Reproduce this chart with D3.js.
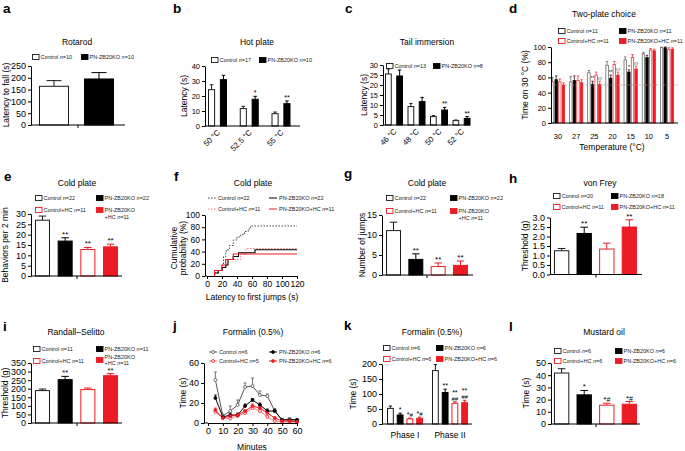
<!DOCTYPE html>
<html><head><meta charset="utf-8">
<script src="https://cdn.jsdelivr.net/npm/d3@7"></script>
<style>body{margin:0;background:#fff}svg{display:block}</style>
</head><body><svg id="c" width="685" height="451"></svg>
<script>
// ---------------- DATA ----------------
const groups2=["Control","PN-ZB20KO"];
const groups4=["Control","PN-ZB20KO","Control+HC","PN-ZB20KO+HC"];
// a Rotarod
const rotarodMean=[164,195], rotarodSem=[24,27];
const rotarodTicks=[0,50,100,150,200,250];
// b Hot plate
const hotTemps=["50 °C","52.5 °C","55 °C"];
const hotCtrl=[24.2,11.6,8.2], hotCtrlSem=[3.3,1.5,1.1];
const hotKO=[30.9,17.8,14.9], hotKOSem=[2.9,2.0,1.8];
const hotSig=["","*","**"];
const hotTicks=[0,10,20,30,40];
// c Tail immersion
const tailTemps=["46 °C","48 °C","50 °C","52 °C"];
const tailCtrl=[25.5,9.2,4.2,2.2], tailCtrlSem=[2.5,1.6,0.5,0.3];
const tailKO=[24.5,11.7,7.5,3.3], tailKOSem=[3.0,2.1,1.3,0.9];
const tailSig=["","","**","**"];
const tailTicks=[0,5,10,15,20,25,30];
// d Two-plate choice
const twoTemps=["30","27","25","20","15","10","5"];
const twoCtrl=[54,54,66,76,83,91,99], twoCtrlSem=[6,7,3,5,4,2,1];
const twoKO=[57,56,51,59,67,86,99], twoKOSem=[5,6,4,4,3,3,1];
const twoCtrlHC=[54,56,63,77,86,96,97], twoCtrlHCSem=[4,6,4,4,4,2,2];
const twoKOHC=[50,53,51,63,71,95,97], twoKOHCSem=[3,4,4,4,4,2,2];
const twoKOSig=["","","**","**","*","",""];
const twoKOHCSig=["","","##","##","##","",""];
const twoTicks=[0,20,40,60,80,100];
// e Cold plate behaviors
const coldBehMean=[27,16.9,12.8,14.1], coldBehSem=[2,1.6,1,1.3];
const coldBehSig=["","**","**","**"];
const coldBehTicks=[0,5,10,15,20,25,30];
// f Cold plate cumulative probability (step curves)
const fCtrlT=[10,15,20,22,25,28,30,35,40,45,50,55,58,120];
const fCtrlP=[5,9,18,32,41,45,50,59,64,68,73,77,82,82];
const fKOT=[10,15,20,25,28,35,42,64,120];
const fKOP=[5,9,14,18,27,32,38,43,43];
const fCtrlHCT=[10,20,25,45,52,120];
const fCtrlHCP=[9,18,27,36,45,45];
const fKOHCT=[10,20,25,35,120];
const fKOHCP=[9,18,27,36,36];
const fXTicks=[0,20,40,60,80,100,120], fYTicks=[0,20,40,60,80,100];
// g Cold plate jumps
const jumpsMean=[11.1,3.9,2.1,2.4], jumpsSem=[2.1,1.4,0.9,1.1];
const jumpsSig=["","**","**","**"];
const jumpsTicks=[0,5,10,15];
// h von Frey
const vfMean=[1.25,2.16,1.34,2.5], vfSem=[0.12,0.33,0.31,0.38];
const vfSig=["","**","","**"];
const vfTicks=[0,0.5,1,1.5,2,2.5,3];
// i Randall-Selitto
const rsMean=[189,253,195,276], rsSem=[9,19,9,12];
const rsSig=["","**","","**"];
const rsTicks=[0,50,100,150,200,250,300,350];
// j Formalin time course
const jMinutes=[5,10,15,20,25,30,35,40,45,50,55,60];
const jCtrl=[43,7,12,18,36,37,28,27,12,3,4,3], jCtrlSem=[8,2,5,5,4,8,4,2,2,1,1,1];
const jKO=[25,6,8,8,17,23,18,12,12,3,3,3], jKOSem=[3,1,2,2,2,1.5,2,2,2,1,1,1];
const jCtrlHC=[11,5,4.5,7,10,15,12,6,2,1,1,1], jCtrlHCSem=[2,1,1,1,1,2,2,1,1,0.5,0.5,0.5];
const jKOHC=[13,5,7,8,12,17,15,10,5,2,2,1], jKOHCSem=[2,1,1,1,1,2,2,2,1,0.5,0.5,0.5];
const jXTicks=[0,10,20,30,40,50,60], jYTicks=[0,20,40,60];
// k Formalin phases
const phases=["Phase I","Phase II"];
const kCtrl=[52,178], kCtrlSem=[8,20];
const kKO=[30,105], kKOSem=[6,11];
const kCtrlHC=[17,69], kCtrlHCSem=[3,5];
const kKOHC=[19,71], kKOHCSem=[4,8];
const kKOSig=["*","**"], kCtrlHCSig=["*#","**\n##"], kKOHCSig=["*#","**\n##"];
const kTicks=[0,50,100,150,200];
// l Mustard oil
const moMean=[41.8,23.9,15.4,16.2], moSem=[3.5,3.6,1.6,2.2];
const moSig=["","*","*#","*#"];
const moTicks=[0,10,20,30,40,50];

// ---------------- HELPERS ----------------
const svg=d3.select("#c");
const FONT='"Liberation Sans", Arial, Helvetica, sans-serif';
const RED="#ed1c24", PINK="#f07a7a";
const STY={ctrl:{fill:"#fff",stroke:"#1a1a1a"},ko:{fill:"#000",stroke:"#000"},chc:{fill:"#fff",stroke:RED},kohc:{fill:RED,stroke:RED}};
const S4=[STY.ctrl,STY.ko,STY.chc,STY.kohc];

function T(x,y,s,size,o={}){
  const t=svg.append("text").attr("x",x).attr("y",y).attr("font-size",size).attr("font-family",FONT).attr("fill",o.fill||"#000").text(s);
  if(o.anchor)t.attr("text-anchor",o.anchor);
  if(o.bold)t.attr("font-weight","bold");
  if(o.rotate!=null)t.attr("transform",`rotate(${o.rotate},${x},${y})`);
  return t;
}
const letter=(x,y,s)=>T(x,y,s,13.5,{bold:true});
const title=(x,y,s)=>T(x,y,s,8.5,{anchor:"middle"});
const yTitle=(x,y,s)=>T(x,y,s,8.5,{anchor:"middle",rotate:-90});
function legText(x,y,s){
  const t=svg.append("text").attr("x",x).attr("y",y).attr("font-size",5.5).attr("font-family",FONT).attr("fill","#222");
  const i=s.lastIndexOf(" n=");
  if(i<0){t.text(s);return;}
  t.append("tspan").text(s.slice(0,i+1));
  t.append("tspan").attr("font-style","italic").text("n");
  t.append("tspan").text(s.slice(i+2));
}
function legBox(x,yc,sty,label,label2){
  svg.append("rect").attr("x",x+0.5).attr("y",yc-2.5).attr("width",6.5).attr("height",5)
    .attr("fill",sty.fill).attr("stroke",sty.stroke).attr("stroke-width",0.9);
  legText(x+8.5,yc+2,label);
  if(label2)legText(x+8.5,yc+8.5,label2);
}
function lineLeg(x,yc,color,dash,marker,label){
  svg.append("line").attr("x1",x).attr("x2",x+8).attr("y1",yc).attr("y2",yc).attr("stroke",color).attr("stroke-width",1).attr("stroke-dasharray",dash||null);
  if(marker)svg.append("circle").attr("cx",x+4).attr("cy",yc).attr("r",1.5).attr("fill",marker.fill).attr("stroke",marker.stroke).attr("stroke-width",0.8);
  legText(x+10,yc+2,label);
}
function yAxis(y,x,ticks,fmt,size){
  const g=svg.append("g").attr("transform",`translate(${x},0)`)
    .call(d3.axisLeft(y).tickValues(ticks).tickFormat(fmt).tickSize(3).tickSizeOuter(0).tickPadding(2));
  g.attr("font-family",FONT).attr("font-size",size);
  g.selectAll("text").attr("fill","#000");
  g.selectAll("line,path").attr("stroke","#000").attr("stroke-width",1);
}
function xAxisScale(x,yPix,ticks,size){
  const g=svg.append("g").attr("transform",`translate(0,${yPix})`)
    .call(d3.axisBottom(x).tickValues(ticks).tickSize(3).tickSizeOuter(0).tickPadding(2));
  g.attr("font-family",FONT).attr("font-size",size);
  g.selectAll("text").attr("fill","#000");
  g.selectAll("line,path").attr("stroke","#000").attr("stroke-width",1);
  return g;
}
function xLine(x0,x1,y){svg.append("line").attr("x1",x0).attr("x2",x1).attr("y1",y).attr("y2",y).attr("stroke","#000").attr("stroke-width",1.1);}
function midTick(x,y){svg.append("line").attr("x1",x).attr("x2",x).attr("y1",y).attr("y2",y+3).attr("stroke","#000").attr("stroke-width",1);}
function sigText(cx,errTop,s,size){
  const lines=s.split("\n");
  lines.forEach((ln,li)=>{
    const yb=errTop-1-(lines.length-1-li)*size*0.85;
    const t=svg.append("text").attr("x",cx).attr("y",yb).attr("text-anchor","middle").attr("font-size",size).attr("font-family",FONT).attr("fill","#000");
    const parts=ln.match(/(\*+|#+)/g)||[];
    parts.forEach(p=>{const ts=t.append("tspan").text(p);if(p[0]==="#")ts.attr("font-style","italic").attr("font-size",size*0.85);});
  });
}
function drawBar(x0,w,y,v,s,sty,sw=1){
  const top=y(v),base=y(0),et=y(v+s),cx=x0+w/2,cap=Math.max(w*0.25,1.2);
  svg.append("line").attr("x1",cx).attr("x2",cx).attr("y1",top).attr("y2",et).attr("stroke",sty.stroke).attr("stroke-width",sw);
  svg.append("line").attr("x1",cx-cap).attr("x2",cx+cap).attr("y1",et).attr("y2",et).attr("stroke",sty.stroke).attr("stroke-width",sw);
  svg.append("rect").attr("x",x0+sw/2).attr("y",top).attr("width",Math.max(w-sw,0.5)).attr("height",Math.max(base-top,0))
    .attr("fill",sty.fill).attr("stroke",sty.stroke).attr("stroke-width",sw);
  return et;
}
function simpleBars(y,names,range,pi,po,vals,sems,stys,sigs,sigSize){
  const x=d3.scaleBand().domain(names).range(range).paddingInner(pi).paddingOuter(po);
  names.forEach((n,i)=>{
    const et=drawBar(x(n),x.bandwidth(),y,vals[i],sems[i],stys[i]);
    if(sigs&&sigs[i])sigText(x(n)+x.bandwidth()/2,et,sigs[i],sigSize||8);
  });
}
function groupedBars(y,cats,cRange,inner,pi,series,sigSize,sw){
  const xc=d3.scalePoint().domain(cats).range(cRange);
  const xi=d3.scaleBand().domain(d3.range(series.length)).range(inner).paddingInner(pi);
  series.forEach((s,si)=>{
    cats.forEach((c,ci)=>{
      const x0=xc(c)+xi(si);
      const et=drawBar(x0,xi.bandwidth(),y,s.vals[ci],s.sems[ci],s.sty,sw||1);
      if(s.sig&&s.sig[ci])sigText(x0+xi.bandwidth()/2,et,s.sig[ci],sigSize);
    });
  });
  return xc;
}
function rotLabels(xc,cats,yPix,size){
  cats.forEach(c=>{const x=xc(c)+3,y=yPix+7;T(x,y,c,size,{anchor:"end",rotate:-45});});
}

// ---------------- PANEL a ----------------
{
  const y=d3.scaleLinear().domain([0,250]).range([125,66]);
  simpleBars(y,groups2,[35,118],0.333,0.089,rotarodMean,rotarodSem,[STY.ctrl,STY.ko]);
  yAxis(y,31,rotarodTicks,d3.format("d"),9);
  xLine(31,125,125); midTick(78,125);
  letter(3,13,"a"); title(77,45,"Rotarod"); yTitle(9,95,"Latency to fall (s)");
  legBox(32,57,STY.ctrl,"Control n=10"); legBox(81,57,STY.ko,"PN-ZB20KO n=10");
}
// ---------------- PANEL b ----------------
{
  const y=d3.scaleLinear().domain([0,40]).range([126,66]);
  const xc=groupedBars(y,hotTemps,[217.5,281],[-9.5,9.5],0.4,[
    {vals:hotCtrl,sems:hotCtrlSem,sty:STY.ctrl},
    {vals:hotKO,sems:hotKOSem,sty:STY.ko,sig:hotSig}],7);
  yAxis(y,205,hotTicks,d3.format("d"),7.5);
  xLine(205,300,126);
  rotLabels(xc,hotTemps,126,7.8);
  letter(173,13,"b"); title(257,45,"Hot plate"); yTitle(187,96,"Latency (s)");
  legBox(211,60,STY.ctrl,"Control n=17"); legBox(259,60,STY.ko,"PN-ZB20KO n=10");
}
// ---------------- PANEL c ----------------
{
  const y=d3.scaleLinear().domain([0,30]).range([125,65]);
  const xc=groupedBars(y,tailTemps,[394,461.5],[-9,9],0.4,[
    {vals:tailCtrl,sems:tailCtrlSem,sty:STY.ctrl},
    {vals:tailKO,sems:tailKOSem,sty:STY.ko,sig:tailSig}],7);
  yAxis(y,383,tailTicks,d3.format("d"),7.5);
  xLine(383,470,125);
  rotLabels(xc,tailTemps,125,7.8);
  letter(345,13,"c"); title(427,45,"Tail immersion"); yTitle(367,95,"Latency (s)");
  legBox(386,66,STY.ctrl,"Control n=13"); legBox(433,66,STY.ko,"PN-ZB20KO n=8");
}
// ---------------- PANEL d ----------------
{
  const y=d3.scaleLinear().domain([0,100]).range([123,47]);
  const xc=groupedBars(y,twoTemps,[558,667],[-7,7],0.12,[
    {vals:twoCtrl,sems:twoCtrlSem,sty:{fill:"#fff",stroke:"#555"}},
    {vals:twoKO,sems:twoKOSem,sty:STY.ko,sig:twoKOSig},
    {vals:twoCtrlHC,sems:twoCtrlHCSem,sty:{fill:"#fff",stroke:RED}},
    {vals:twoKOHC,sems:twoKOHCSem,sty:STY.kohc,sig:twoKOHCSig}],5,0.7);
  svg.append("line").attr("x1",551).attr("x2",678).attr("y1",y(50)).attr("y2",y(50)).attr("stroke","#999").attr("stroke-width",0.7).attr("stroke-dasharray","2,1.5");
  yAxis(y,551,twoTicks,d3.format("d"),7.5);
  xLine(551,678,123);
  twoTemps.forEach(t=>T(xc(t),138.5,t,7.5,{anchor:"middle"}));
  T(612,150,"Temperature (°C)",8.5,{anchor:"middle"});
  letter(509,13,"d"); title(604,17,"Two-plate choice"); yTitle(528,85,"Time on 30 °C (%)");
  legBox(558,31,STY.ctrl,"Control n=11"); legBox(619,31,STY.ko,"PN-ZB20KO n=11");
  legBox(558,41,STY.chc,"Control+HC n=11"); legBox(619,41,STY.kohc,"PN-ZB20KO+HC n=11");
}
// ---------------- PANEL e ----------------
{
  const y=d3.scaleLinear().domain([0,30]).range([276,214]);
  simpleBars(y,groups4,[32.7,120.3],0.338,0.1,coldBehMean,coldBehSem,S4,coldBehSig,8);
  yAxis(y,31,coldBehTicks,d3.format("d"),9);
  xLine(31,122,276); midTick(77,276);
  letter(4,181,"e"); title(77,186,"Cold plate"); yTitle(8,245,"Behaviors per 2 min");
  legBox(35,198,STY.ctrl,"Control n=22"); legBox(96,198,STY.ko,"PN-ZB20KO n=22");
  legBox(35,210,STY.chc,"Control+HC n=11"); legBox(96,210,STY.kohc,"PN-ZB20KO","+HC n=11");
}
// ---------------- PANEL f ----------------
{
  const x=d3.scaleLinear().domain([0,120]).range([207,297]);
  const y=d3.scaleLinear().domain([0,100]).range([276,215]);
  const line=d3.line().x(d=>x(d[0])).y(d=>y(d[1])).curve(d3.curveStepAfter);
  function step(ts,ps,color,dash){
    const pts=[[ts[0],0]].concat(ts.map((t,i)=>[t,ps[i]]));
    svg.append("path").attr("d",line(pts)).attr("fill","none").attr("stroke",color).attr("stroke-width",dash?1:1.1).attr("stroke-dasharray",dash||null);
  }
  step(fCtrlT,fCtrlP,"#444","1.5,1.5");
  step(fCtrlHCT,fCtrlHCP,PINK,"1.5,1.5");
  step(fKOT,fKOP,"#000");
  step(fKOHCT,fKOHCP,RED);
  yAxis(y,205,fYTicks,d3.format("d"),8.5);
  svg.append("line").attr("x1",205).attr("x2",207).attr("y1",276).attr("y2",276).attr("stroke","#000");
  xAxisScale(x,276,fXTicks,8.5);
  T(252,300,"Latency to first jumps (s)",8.5,{anchor:"middle"});
  letter(174,181,"f"); title(253,186,"Cold plate");
  yTitle(177,248,"Cumulative"); yTitle(186,248,"probability (%)");
  lineLeg(208,198,"#444","1.5,1.5",null,"Control n=22"); lineLeg(269,198,"#000",null,null,"PN-ZB20KO n=22");
  lineLeg(208,209,PINK,"1.5,1.5",null,"Control+HC n=11"); lineLeg(269,209,RED,null,null,"PN-ZB20KO+HC n=11");
}
// ---------------- PANEL g ----------------
{
  const y=d3.scaleLinear().domain([0,15]).range([275,215]);
  simpleBars(y,groups4,[383.8,470.2],0.33,0.1,jumpsMean,jumpsSem,S4,jumpsSig,8);
  yAxis(y,382,jumpsTicks,d3.format("d"),9);
  xLine(382,473,275); midTick(427,275);
  letter(344,178,"g"); title(427,186,"Cold plate"); yTitle(365,245,"Number of jumps");
  legBox(386,198,STY.ctrl,"Control n=22"); legBox(450,198,STY.ko,"PN-ZB20KO n=22");
  legBox(386,211,STY.chc,"Control+HC n=11"); legBox(450,211,STY.kohc,"PN-ZB20KO","+HC n=11");
}
// ---------------- PANEL h ----------------
{
  const y=d3.scaleLinear().domain([0,3]).range([274.5,217.5]);
  simpleBars(y,groups4,[551.7,639.3],0.32,0.1,vfMean,vfSem,S4,vfSig,8);
  yAxis(y,550,vfTicks,d3.format(".1f"),9);
  xLine(550,642,274.5); midTick(596,274.5);
  letter(509,183,"h"); title(600,186,"von Frey"); yTitle(528,246,"Threshold (g)");
  legBox(553,196,STY.ctrl,"Control n=20"); legBox(611,196,STY.ko,"PN-ZB20KO n=18");
  legBox(553,207,STY.chc,"Control+HC n=11"); legBox(611,207,STY.kohc,"PN-ZB20KO+HC n=11");
}
// ---------------- PANEL i ----------------
{
  const y=d3.scaleLinear().domain([0,350]).range([423,363]);
  simpleBars(y,groups4,[32.7,120.3],0.338,0.1,rsMean,rsSem,S4,rsSig,7.5);
  yAxis(y,31,rsTicks,d3.format("d"),9);
  xLine(31,122,423); midTick(77,423);
  letter(3,331,"i"); title(76,335,"Randall–Selitto"); yTitle(8,393,"Threshold (g)");
  legBox(33,349,STY.ctrl,"Control n=11"); legBox(96,349,STY.ko,"PN-ZB20KO n=11");
  legBox(33,361,STY.chc,"Control+HC n=11");
  svg.append("rect").attr("x",96.5).attr("y",357.5).attr("width",6.5).attr("height",5).attr("fill",RED).attr("stroke",RED).attr("stroke-width",0.9);
  legText(104.5,359,"PN-ZB20KO"); legText(104.5,365,"+HC n=11");
}
// ---------------- PANEL j ----------------
{
  const x=d3.scaleLinear().domain([0,60]).range([208,297]);
  const y=d3.scaleLinear().domain([0,60]).range([423,363]);
  const ln=d3.line().x((d,i)=>x(jMinutes[i])).y(d=>y(d));
  const series=[
    {v:jCtrl,s:jCtrlSem,color:"#555",mk:{fill:"#fff",stroke:"#555"}},
    {v:jCtrlHC,s:jCtrlHCSem,color:PINK,mk:{fill:"#fff",stroke:RED}},
    {v:jKO,s:jKOSem,color:"#000",mk:{fill:"#000",stroke:"#000"}},
    {v:jKOHC,s:jKOHCSem,color:RED,mk:{fill:RED,stroke:RED}}];
  series.forEach(se=>{
    se.v.forEach((v,i)=>{
      const cx=x(jMinutes[i]);
      svg.append("line").attr("x1",cx).attr("x2",cx).attr("y1",y(v)).attr("y2",y(v+se.s[i])).attr("stroke",se.color).attr("stroke-width",0.8);
      svg.append("line").attr("x1",cx-1.5).attr("x2",cx+1.5).attr("y1",y(v+se.s[i])).attr("y2",y(v+se.s[i])).attr("stroke",se.color).attr("stroke-width",0.8);
    });
    svg.append("path").attr("d",ln(se.v)).attr("fill","none").attr("stroke",se.color).attr("stroke-width",1);
  });
  series.forEach(se=>{
    se.v.forEach((v,i)=>svg.append("circle").attr("cx",x(jMinutes[i])).attr("cy",y(v)).attr("r",1.5).attr("fill",se.mk.fill).attr("stroke",se.mk.stroke).attr("stroke-width",0.8));
  });
  yAxis(y,204,jYTicks,d3.format("d"),9);
  svg.append("line").attr("x1",204).attr("x2",208).attr("y1",423).attr("y2",423).attr("stroke","#000");
  xAxisScale(x,423,jXTicks,9);
  T(252,450,"Minutes",8.5,{anchor:"middle"});
  letter(173,330,"j"); title(253,335,"Formalin (0.5%)"); yTitle(186,393,"Time (s)");
  lineLeg(209,352,"#555",null,{fill:"#fff",stroke:"#555"},"Control n=6");
  lineLeg(269,352,"#000",null,{fill:"#000",stroke:"#000"},"PN-ZB20KO n=6");
  lineLeg(209,361,PINK,null,{fill:"#fff",stroke:RED},"Control+HC n=5");
  lineLeg(269,361,RED,null,{fill:RED,stroke:RED},"PN-ZB20KO+HC n=6");
}
// ---------------- PANEL k ----------------
{
  const y=d3.scaleLinear().domain([0,200]).range([424,364]);
  const xc=groupedBars(y,phases,[405,450],[-18,18],0.3,[
    {vals:kCtrl,sems:kCtrlSem,sty:STY.ctrl},
    {vals:kKO,sems:kKOSem,sty:STY.ko,sig:kKOSig},
    {vals:kCtrlHC,sems:kCtrlHCSem,sty:STY.chc,sig:kCtrlHCSig},
    {vals:kKOHC,sems:kKOHCSem,sty:STY.kohc,sig:kKOHCSig}],7);
  yAxis(y,382,kTicks,d3.format("d"),9);
  xLine(382,472,424);
  phases.forEach(p=>T(xc(p),438,p,8.5,{anchor:"middle"}));
  letter(344,330,"k"); title(432,335,"Formalin (0.5%)"); yTitle(356,394,"Time (s)");
  legBox(383,348,STY.ctrl,"Control n=6"); legBox(436,348,STY.ko,"PN-ZB20KO n=6");
  legBox(383,359,STY.chc,"Control+HC n=6"); legBox(436,359,STY.kohc,"PN-ZB20KO+HC n=6");
}
// ---------------- PANEL l ----------------
{
  const y=d3.scaleLinear().domain([0,50]).range([424,363]);
  simpleBars(y,groups4,[551.7,639.3],0.32,0.1,moMean,moSem,S4,moSig,8);
  yAxis(y,551,moTicks,d3.format("d"),9);
  xLine(551,640,424); midTick(596,424);
  letter(509,331,"l"); title(604,335,"Mustard oil"); yTitle(529,393,"Time (s)");
  legBox(554,351,STY.ctrl,"Control n=6"); legBox(615,351,STY.ko,"PN-ZB20KO n=6");
  legBox(554,361,STY.chc,"Control+HC n=6"); legBox(615,361,STY.kohc,"PN-ZB20KO+HC n=6");
}
</script></body></html>
